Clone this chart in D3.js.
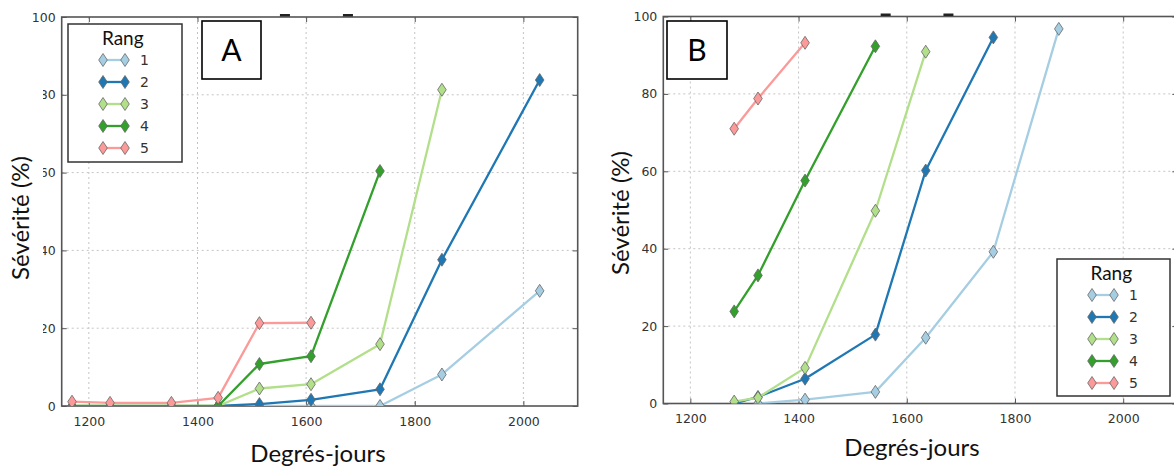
<!DOCTYPE html>
<html>
<head>
<meta charset="utf-8">
<script src="https://cdn.jsdelivr.net/npm/d3@7"></script>
<style>
    body { margin: 0; background: #fff; }
    svg { display: block; }
</style>
</head>
<body>
<svg id="chart" width="1174" height="467"></svg>
<script>
// ---- data ----
const ranks = ["1", "2", "3", "4", "5"];
const rankColors = ["#a6cee3", "#1f78b4", "#b2df8a", "#33a02c", "#fb9a99"];

// panel A : degree-days and severity (%) per rank, null = no observation
const daysA = [1169, 1239, 1352, 1438, 1514, 1609, 1736, 1850, 2030];
const sevA1 = [null, null, null, 0, 0, 0, 0, 8.1, 29.6];
const sevA2 = [null, null, null, 0, 0.5, 1.6, 4.3, 37.6, 83.8];
const sevA3 = [0, 0, 0, 0, 4.5, 5.6, 15.9, 81.3, null];
const sevA4 = [0, 0, 0, 0, 10.8, 12.8, 60.4, null, null];
const sevA5 = [1.1, 0.8, 0.8, 2.1, 21.3, 21.4, null, null, null];

// panel B
const daysB = [1281, 1325, 1412, 1542, 1635, 1760, 1881];
const sevB1 = [null, 0, 1.0, 3.0, 17.0, 39.2, 96.8];
const sevB2 = [0, 1.7, 6.4, 17.8, 60.2, 94.6, null];
const sevB3 = [0.5, 1.5, 9.2, 49.8, 90.9, null, null];
const sevB4 = [23.8, 33.1, 57.6, 92.3, null, null, null];
const sevB5 = [71.0, 78.8, 93.2, null, null, null, null];

const xTicks = [1200, 1400, 1600, 1800, 2000];
const yTicks = [0, 20, 40, 60, 80, 100];
const topDashDays = [1561, 1677]; // little dark dashes sitting on the top border

const panels = [
    {
        id: "A", days: daysA, sev: [sevA1, sevA2, sevA3, sevA4, sevA5],
        left: 61.7, right: 577.7, top: 17, bottom: 406,
        box: { x: 202, y: 21, w: 59, h: 58 },
        legend: { x: 68, y: 24, w: 114, h: 138 },
        xlab: { x: 318, y: 462 }, ylab: { x: 29, y: 218 },
        cover: true
    },
    {
        id: "B", days: daysB, sev: [sevB1, sevB2, sevB3, sevB4, sevB5],
        left: 663.3, right: 1177.3, top: 16.5, bottom: 403.5,
        box: { x: 667, y: 21, w: 60, h: 58 },
        legend: { x: 1057, y: 259, w: 113, h: 137 },
        xlab: { x: 912, y: 456 }, ylab: { x: 629, y: 213 },
        cover: false
    }
];

const svg = d3.select("#chart");
svg.append("rect").attr("width", 1174).attr("height", 467).attr("fill", "#fff");

const tickFont = "'DejaVu Sans', sans-serif";
const labelFont = "Lato, 'Open Sans', sans-serif";
const diamond = "M0,-6.5L4.3,0L0,6.5L-4.3,0Z";

panels.forEach((p) => {
    const g = svg.append("g");

    const xScale = d3.scaleLinear().domain([1150, 2100]).range([p.left, p.right]);
    const yScale = d3.scaleLinear().domain([0, 100]).range([p.bottom, p.top]);

    const clipId = "clip" + p.id;
    svg.append("clipPath").attr("id", clipId)
        .append("rect")
        .attr("x", p.left).attr("y", p.top)
        .attr("width", p.right - p.left).attr("height", p.bottom - p.top);

    // dotted grid
    const grid = g.append("g")
        .attr("stroke", "#c4c4c4").attr("stroke-width", 1).attr("stroke-dasharray", "2,3");
    grid.selectAll(".gx").data(xTicks).enter().append("line")
        .attr("x1", (d) => xScale(d)).attr("x2", (d) => xScale(d))
        .attr("y1", p.top).attr("y2", p.bottom);
    grid.selectAll(".gy").data(yTicks.slice(1, -1)).enter().append("line")
        .attr("x1", p.left).attr("x2", p.right)
        .attr("y1", (d) => yScale(d)).attr("y2", (d) => yScale(d));

    // axes (ticks inside, like the old matplotlib style)
    g.append("g")
        .attr("transform", "translate(0," + p.bottom + ")")
        .call(d3.axisBottom(xScale).tickValues(xTicks).tickFormat(d3.format("d"))
            .tickSize(-5).tickPadding(11).tickSizeOuter(0));
    g.append("g")
        .attr("transform", "translate(" + p.left + ",0)")
        .call(d3.axisLeft(yScale).tickValues(yTicks).tickFormat(d3.format("d"))
            .tickSize(-5).tickPadding(6).tickSizeOuter(0));
    g.append("g")
        .attr("transform", "translate(0," + p.top + ")")
        .call(d3.axisTop(xScale).tickValues(xTicks).tickSize(-5).tickFormat("").tickSizeOuter(0));
    g.append("g")
        .attr("transform", "translate(" + p.right + ",0)")
        .call(d3.axisRight(yScale).tickValues(yTicks).tickSize(-5).tickFormat("").tickSizeOuter(0));

    g.selectAll(".domain").remove();
    g.selectAll(".tick line").attr("stroke", "#555");
    g.selectAll(".tick text")
        .attr("fill", "#333").style("font-family", tickFont).style("font-size", "12.5px");

    // frame
    g.append("rect")
        .attr("x", p.left).attr("y", p.top)
        .attr("width", p.right - p.left).attr("height", p.bottom - p.top)
        .attr("fill", "none").attr("stroke", "#555").attr("stroke-width", 1.6);

    g.selectAll(".topdash").data(topDashDays).enter().append("rect")
        .attr("x", (d) => xScale(d) - 5).attr("y", p.top - 3)
        .attr("width", 10).attr("height", 2.5).attr("fill", "#222");

    // series
    const plot = g.append("g").attr("clip-path", "url(#" + clipId + ")");
    const line = d3.line().x((d) => xScale(d.x)).y((d) => yScale(d.y));
    p.sev.forEach((vals, i) => {
        const pts = p.days.map((x, j) => ({ x: x, y: vals[j] })).filter((d) => d.y != null);
        const s = plot.append("g");
        s.append("path").datum(pts)
            .attr("d", line).attr("fill", "none")
            .attr("stroke", rankColors[i]).attr("stroke-width", 2.3)
            .attr("stroke-linejoin", "round");
        s.selectAll("path.m").data(pts).enter().append("path")
            .attr("class", "m")
            .attr("d", diamond)
            .attr("transform", (d) => "translate(" + xScale(d.x) + "," + yScale(d.y) + ")")
            .attr("fill", rankColors[i]).attr("stroke", "#666").attr("stroke-width", 0.8);
    });

    // legend
    const L = p.legend;
    const lg = g.append("g").attr("transform", "translate(" + L.x + "," + L.y + ")");
    lg.append("rect").attr("width", L.w).attr("height", L.h)
        .attr("fill", "#fff").attr("stroke", "#333").attr("stroke-width", 1.5);
    lg.append("text").attr("x", L.w * 0.48).attr("y", 21)
        .attr("text-anchor", "middle").style("font-family", labelFont).style("font-size", "19px")
        .attr("fill", "#111").text("Rang");
    const items = lg.selectAll(".item").data(ranks).enter().append("g")
        .attr("transform", (d, i) => "translate(0," + (36 + i * 22) + ")");
    items.append("line").attr("x1", 35).attr("x2", 57)
        .attr("stroke", (d, i) => rankColors[i]).attr("stroke-width", 2.3);
    [35, 57].forEach((mx) => {
        items.append("path").attr("d", diamond)
            .attr("transform", "translate(" + mx + ",0)")
            .attr("fill", (d, i) => rankColors[i]).attr("stroke", "#666").attr("stroke-width", 0.8);
    });
    items.append("text").attr("x", 72).attr("dy", "0.36em")
        .style("font-family", tickFont).style("font-size", "14px").attr("fill", "#333")
        .text((d) => d);

    // panel letter
    const b = p.box;
    g.append("rect").attr("x", b.x).attr("y", b.y).attr("width", b.w).attr("height", b.h)
        .attr("fill", "#fff").attr("stroke", "#000").attr("stroke-width", 1.6);
    g.append("text").attr("x", b.x + b.w / 2).attr("y", b.y + b.h / 2).attr("dy", "0.36em")
        .attr("text-anchor", "middle").style("font-family", labelFont).style("font-size", "30px")
        .attr("fill", "#000").text(p.id);

    // axis titles (the left one is a text box that hides part of the tick labels)
    if (p.cover) {
        g.append("rect").attr("x", 0).attr("y", 60).attr("width", 43).attr("height", 290).attr("fill", "#fff");
    }
    g.append("text")
        .attr("transform", "translate(" + p.ylab.x + "," + p.ylab.y + ") rotate(-90)")
        .attr("text-anchor", "middle").style("font-family", labelFont).style("font-size", "24px")
        .attr("fill", "#111").text("Sévérité (%)");
    g.append("text").attr("x", p.xlab.x).attr("y", p.xlab.y)
        .attr("text-anchor", "middle").style("font-family", labelFont).style("font-size", "24px")
        .attr("fill", "#111").text("Degrés-jours");
});
</script>
</body>
</html>
